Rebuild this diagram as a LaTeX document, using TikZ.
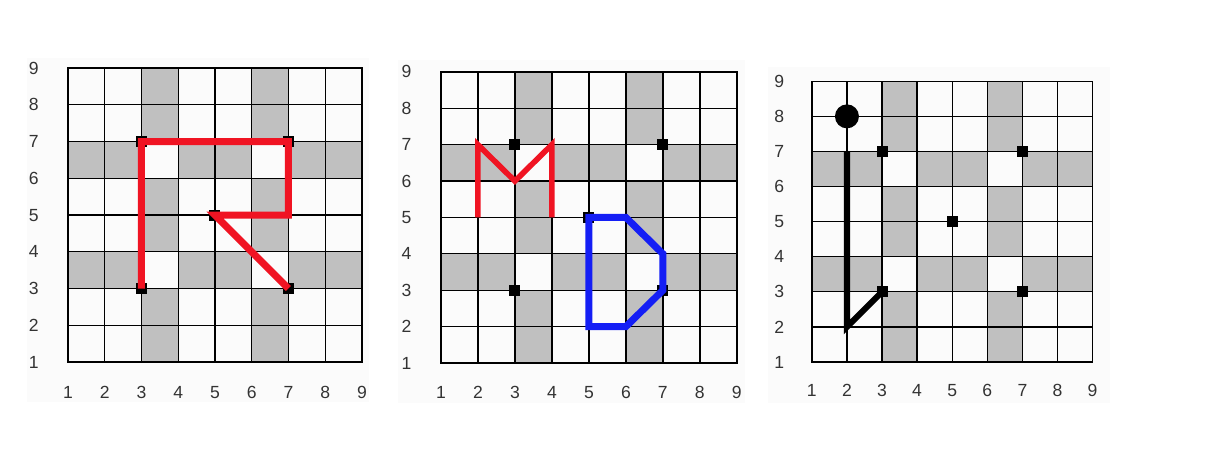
\documentclass[tikz,border=0pt]{standalone}
\usepackage{fontspec}
\setmainfont{Liberation Sans}

\definecolor{penred}{RGB}{240,20,35}
\definecolor{penblue}{RGB}{20,30,245}
\definecolor{cellgray}{RGB}{192,192,192}
\definecolor{panelbg}{RGB}{251,251,251}

% one 8x8 board with its axis numbers, in board units
\newcommand{\chessgrid}[1]{%
  \fill[cellgray, even odd rule] (3,1) rectangle (4,9) (6,1) rectangle (7,9)
    (1,3) rectangle (9,4) (1,6) rectangle (9,7);
  \foreach \k in {1,...,9} {
    \draw[gridline] (\k,1) -- (\k,9);
    \draw[gridline] (1,\k) -- (9,\k);
    \node[axislbl] (#1x\k) at (\k,0.18) {\k};
    \node[axislbl] (#1y\k) at (0.07,\k) {\k};
  }
}

\begin{document}
\begin{tikzpicture}[x=0.02cm, y=0.02cm,
  gridline/.style={draw=black, line width=0.75pt, line cap=rect},
  axislbl/.style={font=\fontsize{10}{12}\selectfont, text=black!80, inner sep=0pt},
  dotsq/.style={rectangle, fill=black, minimum size=6.3pt, inner sep=0pt},
  bigdot/.style={circle, fill=black, minimum size=0.48cm, inner sep=0pt},
  redline/.style={draw=penred, line width=4pt},
  thinred/.style={draw=penred, line width=3.2pt},
  blueline/.style={draw=penblue, line width=4pt},
  inkline/.style={draw=black, line width=3.5pt}
]
  \useasboundingbox (0,0) rectangle (1210,450);
  \fill[panelbg] (27,48) rectangle (369,392);
  \fill[panelbg] (398,47) rectangle (745,390);
  \fill[panelbg] (768,47) rectangle (1110,383);

  % board 1: R
  \begin{scope}[shift={(0.625cm,1.025cm)}, x=0.735cm, y=0.735cm]
    \chessgrid{a}
    \node[dotsq] (a37) at (3,7) {};
    \node[dotsq] (a77) at (7,7) {};
    \node[dotsq] (a55) at (5,5) {};
    \node[dotsq] (a33) at (3,3) {};
    \node[dotsq] (a73) at (7,3) {};
    \coordinate (a75) at (7,5);
    \draw[redline] (a33.center) -- (a37.center) -- (a77.center) -- (a75)
      -- (a55.center) -- (a73.center);
  \end{scope}

  % board 2: M and D
  \begin{scope}[shift={(8.08cm,1.012cm)}, x=0.74cm, y=0.728cm]
    \chessgrid{b}
    \node[dotsq] (b37) at (3,7) {};
    \node[dotsq] (b77) at (7,7) {};
    \node[dotsq] (b55) at (5,5) {};
    \node[dotsq] (b33) at (3,3) {};
    \node[dotsq] (b73) at (7,3) {};
    \coordinate (m25) at (2,5);
    \coordinate (m27) at (2,7);
    \coordinate (m36) at (3,6);
    \coordinate (m47) at (4,7);
    \coordinate (m45) at (4,5);
    \draw[thinred] (m25) -- (m27) -- (m36) -- (m47) -- (m45);
    \coordinate (d65) at (6,5);
    \coordinate (d74) at (7,4);
    \coordinate (d62) at (6,2);
    \coordinate (d52) at (5,2);
    \draw[blueline] (b55.center) -- (d65) -- (d74) -- (b73.center) -- (d62)
      -- (d52) -- cycle;
  \end{scope}

  % board 3: stroke with start dot
  \begin{scope}[shift={(15.538cm,1.058cm)}, x=0.702cm, y=0.702cm]
    \chessgrid{c}
    \node[dotsq] (c37) at (3,7) {};
    \node[dotsq] (c77) at (7,7) {};
    \node[dotsq] (c55) at (5,5) {};
    \node[dotsq] (c33) at (3,3) {};
    \node[dotsq] (c73) at (7,3) {};
    \node[bigdot] (c28) at (2,8) {};
    \coordinate (c27) at (2,7);
    \coordinate (c22) at (2,2);
    \draw[inkline] (c27) -- (c22) -- (c33.center);
  \end{scope}
\end{tikzpicture}
\end{document}
